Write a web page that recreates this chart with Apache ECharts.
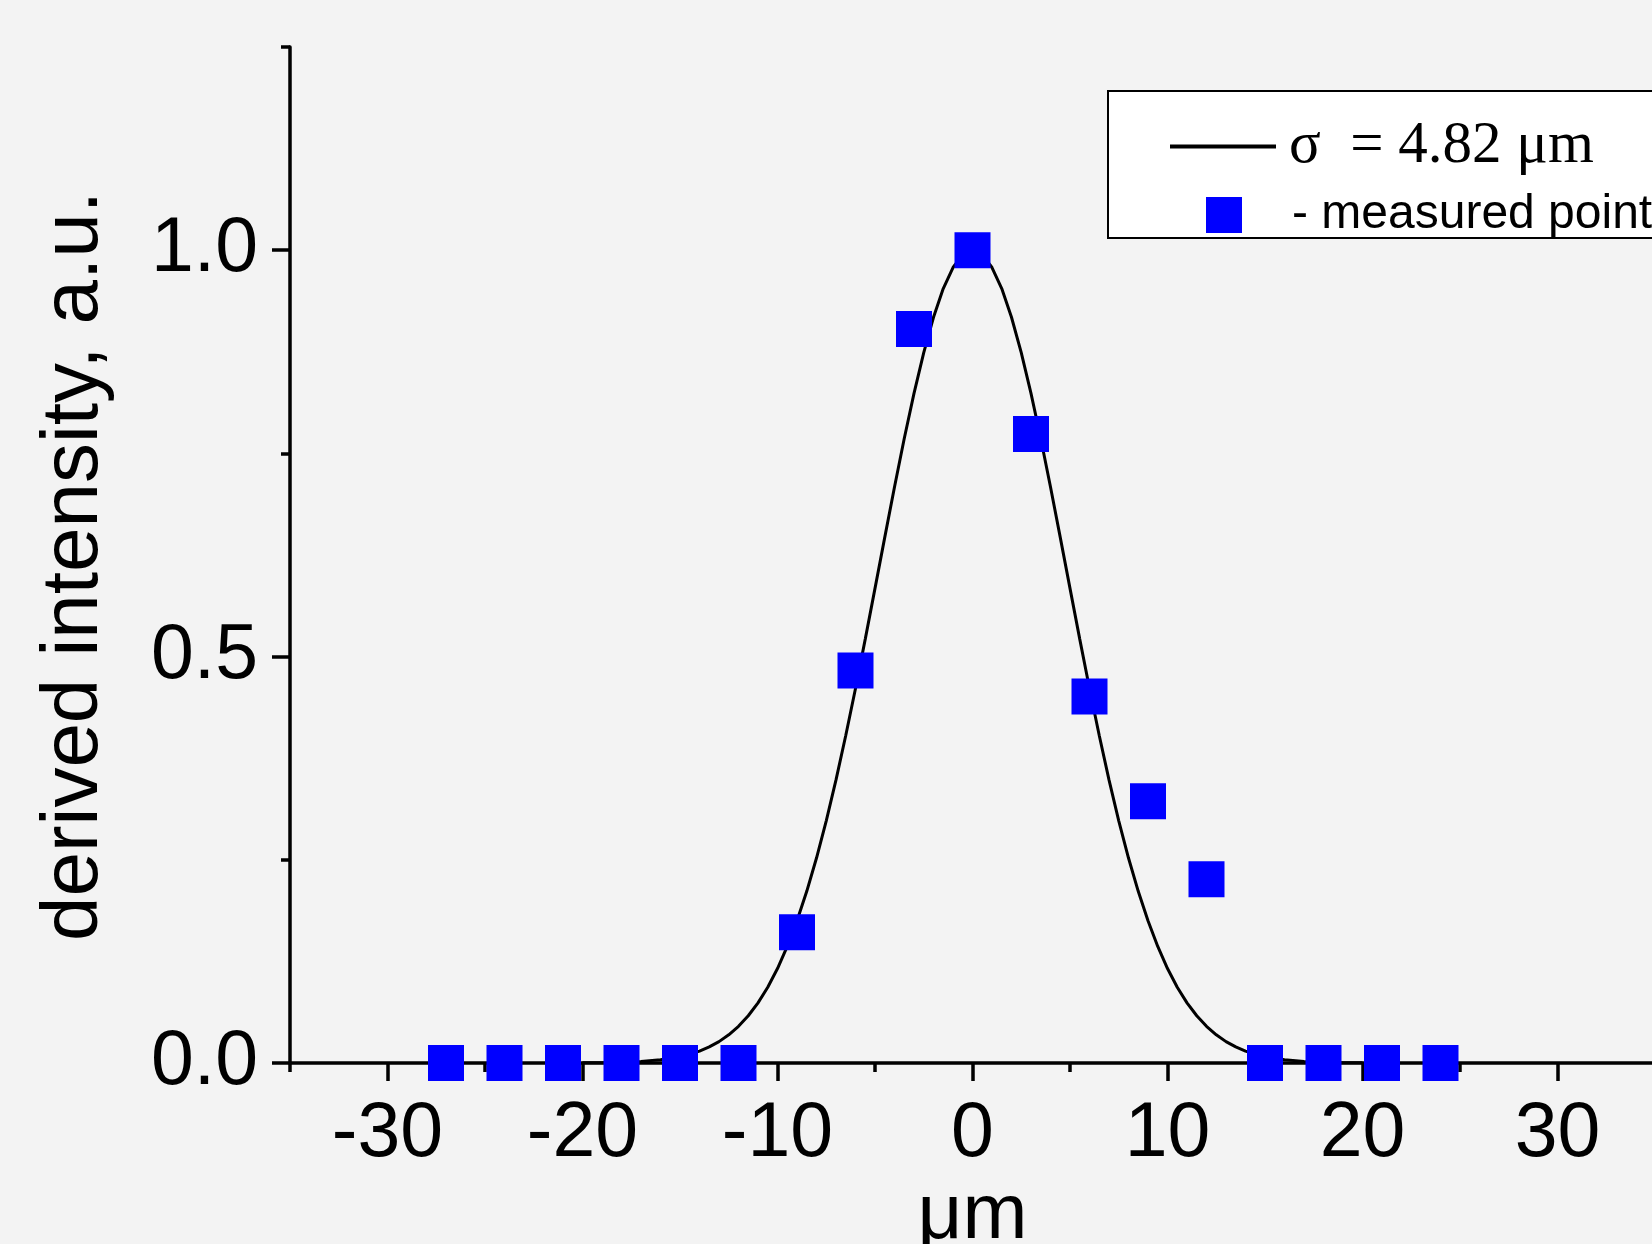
<!DOCTYPE html>
<html>
<head>
<meta charset="utf-8">
<script src="https://cdn.jsdelivr.net/npm/echarts@6/dist/echarts.min.js"></script>
<style>
html,body{margin:0;padding:0;background:#f3f3f3;overflow:hidden;}
#chart{width:1652px;height:1244px;}
</style>
</head>
<body>
<div id="chart"></div>
<script>
// Measured points (x in µm, derived intensity)
const pointX = [-27, -24, -21, -18, -15, -12, -9, -6, -3, 0, 3, 6, 9, 12, 15, 18, 21, 24];
const pointY = [0, 0, 0, 0, 0, 0, 0.161, 0.483, 0.903, 1.0, 0.774, 0.451, 0.322, 0.226, 0, 0, 0, 0];

// Fitted curve (sigma = 4.82 µm)
const curveX = [-20, -19, -18, -17, -16, -15, -14.5, -14, -13.5, -13, -12.5, -12, -11.5, -11, -10.5, -10,
                -9.5, -9, -8.5, -8, -7.5, -7, -6.5, -6, -5.5, -5, -4.5, -4, -3.5, -3, -2.5, -2, -1.5, -1, -0.5, 0,
                0.5, 1, 1.5, 2, 2.5, 3, 3.5, 4, 4.5, 5, 5.5, 6, 6.5, 7, 7.5, 8, 8.5, 9, 9.5,
                10, 10.5, 11, 11.5, 12, 12.5, 13, 13.5, 14, 14.5, 15, 16, 17, 18, 19, 20];
const curveY = [0.0002, 0.0004, 0.0009, 0.002, 0.004, 0.0079, 0.0108, 0.0147, 0.0198, 0.0263, 0.0347, 0.0451, 0.0581, 0.074, 0.0932, 0.1162,
                0.1434, 0.175, 0.2112, 0.2522, 0.298, 0.3483, 0.4029, 0.4608, 0.5215, 0.5839, 0.6467, 0.7087, 0.7683, 0.8239, 0.8741, 0.9175, 0.9528, 0.9787, 0.9946, 1.0,
                0.9946, 0.9787, 0.9528, 0.9175, 0.8741, 0.8239, 0.7683, 0.7087, 0.6467, 0.5839, 0.5215, 0.4608, 0.4029, 0.3483, 0.298, 0.2522, 0.2112, 0.175, 0.1434,
                0.1162, 0.0932, 0.074, 0.0581, 0.0451, 0.0347, 0.0263, 0.0198, 0.0147, 0.0108, 0.0079, 0.004, 0.002, 0.0009, 0.0004, 0.0002];

// Tick values
const xMajorTicks = [-30, -20, -10, 0, 10, 20, 30];
const xMinorTicks = [-35, -25, -15, -5, 5, 15, 25, 35];
const yMajorTicks = [0, 0.5, 1.0];
const yMinorTicks = [0.25, 0.75, 1.25];

const lineName = 'σ  = 4.82 μm';
const pointName = '- measured points';
const xName = 'μm';
const yName = 'derived intensity, a.u.';

const SANS = "'Liberation Sans', Arial, Helvetica, sans-serif";
const SERIF = "'Liberation Serif', 'Times New Roman', Times, serif";

const chart = echarts.init(document.getElementById('chart'), null, {renderer: 'canvas'});

const curveData = curveX.map((x, i) => [x, curveY[i]]);
const pointData = pointX.map((x, i) => [x, pointY[i]]);

const option = {
  backgroundColor: '#f3f3f3',
  animation: false,
  grid: {left: 290, right: -3, top: 47, bottom: 181, containLabel: false, outerBoundsMode: 'none'},
  xAxis: [
    {
      type: 'value', min: -35, max: 35, interval: 5, position: 'bottom',
      name: xName, nameLocation: 'middle', nameGap: 106,
      nameTextStyle: {fontFamily: SANS, fontSize: 78, color: '#000'},
      axisLine: {show: true, onZero: false, lineStyle: {color: '#000', width: 3.5}},
      axisTick: {show: true, length: 18, customValues: xMajorTicks, lineStyle: {color: '#000', width: 3.5}},
      axisLabel: {show: true, customValues: xMajorTicks, margin: 33, fontFamily: SANS, fontSize: 77, color: '#000'},
      splitLine: {show: false}
    },
    {
      type: 'value', min: -35, max: 35, interval: 5, position: 'bottom',
      axisLine: {show: false, onZero: false},
      axisTick: {show: true, length: 9, customValues: xMinorTicks, lineStyle: {color: '#000', width: 3.5}},
      axisLabel: {show: false},
      splitLine: {show: false}
    }
  ],
  yAxis: [
    {
      type: 'value', min: 0, max: 1.25, interval: 0.25, position: 'left',
      name: yName, nameLocation: 'middle', nameGap: 175,
      nameTextStyle: {fontFamily: SANS, fontSize: 80, color: '#000', padding: [0, 22, 0, 0]},
      axisLine: {show: true, onZero: false, lineStyle: {color: '#000', width: 3.5}},
      axisTick: {show: true, length: 18, customValues: yMajorTicks, lineStyle: {color: '#000', width: 3.5}},
      axisLabel: {show: true, customValues: yMajorTicks, margin: 32, fontFamily: SANS, fontSize: 77, color: '#000',
                  padding: [0, 0, 10, 0], formatter: v => Number(v).toFixed(1)},
      splitLine: {show: false}
    },
    {
      type: 'value', min: 0, max: 1.25, interval: 0.25, position: 'left',
      axisLine: {show: false, onZero: false},
      axisTick: {show: true, length: 9, customValues: yMinorTicks, lineStyle: {color: '#000', width: 3.5}},
      axisLabel: {show: false},
      splitLine: {show: false}
    }
  ],
  graphic: {
    elements: [
      {
        type: 'rect', z: 10,
        shape: {x: 1108, y: 91, width: 600, height: 147},
        style: {fill: '#ffffff', stroke: '#000', lineWidth: 2}
      }
    ]
  },
  legend: [
    {
      z: 20, left: 1170, top: 117, padding: 0,
      itemWidth: 106, itemHeight: 4,
      data: [{name: lineName, icon: 'rect', itemStyle: {color: '#000'}}],
      textStyle: {fontFamily: SERIF, fontSize: 59, color: '#000', padding: [0, 0, 0, 8]}
    },
    {
      z: 20, left: 1206, top: 191, padding: 0,
      itemWidth: 36, itemHeight: 36,
      data: [{name: pointName, icon: 'rect'}],
      textStyle: {fontFamily: SANS, fontSize: 48, color: '#000', padding: [0, 0, 0, 45]}
    }
  ],
  series: [
    {
      name: lineName, type: 'line', xAxisIndex: 0, yAxisIndex: 0,
      data: curveData, smooth: false, symbol: 'none', showSymbol: false,
      lineStyle: {color: '#000', width: 3}, itemStyle: {color: '#000'},
      z: 2
    },
    {
      name: pointName, type: 'scatter', xAxisIndex: 0, yAxisIndex: 0,
      data: pointData, symbol: 'rect', symbolSize: 36, clip: true,
      itemStyle: {color: '#0000ff', opacity: 1},
      z: 3
    }
  ]
};

chart.setOption(option);
</script>
</body>
</html>
